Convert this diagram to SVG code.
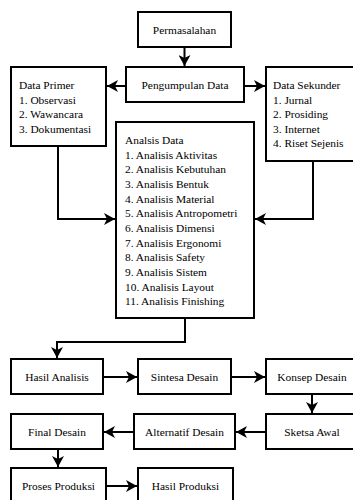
<svg xmlns="http://www.w3.org/2000/svg" width="353" height="500" viewBox="0 0 353 500">
<style>
.box{fill:#fff;stroke:#000;stroke-width:2}
text{font-family:"Liberation Serif","Times New Roman",serif;font-size:11.4px;fill:#000}
.c{text-anchor:middle}
.con{fill:none;stroke:#000;stroke-width:2}
</style>
<defs>
<marker id="ah" markerUnits="userSpaceOnUse" markerWidth="12" markerHeight="12" refX="11" refY="6" orient="auto">
<path d="M0,0 L11,6 L0,12 L3,6 z" fill="#000"/>
</marker>
</defs>
<rect width="353" height="500" fill="#fff"/>
<g id="connectors">
<path class="con" d="M184.5,47 V66" marker-end="url(#ah)"/>
<path class="con" d="M126,86 H107" marker-end="url(#ah)"/>
<path class="con" d="M244,86 H265" marker-end="url(#ah)"/>
<path class="con" d="M58,146 V219 H115" marker-end="url(#ah)"/>
<path class="con" d="M313,161 V219 H255" marker-end="url(#ah)"/>
<path class="con" d="M185,318 V342 H57 V358" marker-end="url(#ah)"/>
<path class="con" d="M103,377 H137" marker-end="url(#ah)"/>
<path class="con" d="M231,377 H265" marker-end="url(#ah)"/>
<path class="con" d="M312,394 V413" marker-end="url(#ah)"/>
<path class="con" d="M266,432 H236" marker-end="url(#ah)"/>
<path class="con" d="M134,432 H104" marker-end="url(#ah)"/>
<path class="con" d="M58,449 V467" marker-end="url(#ah)"/>
<path class="con" d="M106,486 H137" marker-end="url(#ah)"/>
</g>
<g id="permasalahan"><rect class="box" x="138" y="12" width="93" height="35"/><text class="c" x="184.5" y="34">Permasalahan</text></g>
<g id="pengumpulan"><rect class="box" x="126" y="67" width="118" height="35"/><text class="c" x="185" y="89">Pengumpulan Data</text></g>
<g id="data-primer"><rect class="box" x="11" y="67" width="95" height="79"/>
<text x="19" y="89">Data Primer</text>
<text x="19" y="104">1. Observasi</text>
<text x="19" y="118">2. Wawancara</text>
<text x="19" y="133">3. Dokumentasi</text></g>
<g id="data-sekunder"><rect class="box" x="266" y="67" width="94" height="94"/>
<text x="273" y="89">Data Sekunder</text>
<text x="273" y="104">1. Jurnal</text>
<text x="273" y="118">2. Prosiding</text>
<text x="273" y="133">3. Internet</text>
<text x="273" y="147">4. Riset Sejenis</text></g>
<g id="analisis-data"><rect class="box" x="116" y="122" width="138" height="196"/>
<text x="125" y="144">Analsis Data</text>
<text x="125" y="158.5">1. Analisis Aktivitas</text>
<text x="125" y="173">2. Analisis Kebutuhan</text>
<text x="125" y="188">3. Analisis Bentuk</text>
<text x="125" y="202.5">4. Analisis Material</text>
<text x="125" y="217">5. Analisis Antropometri</text>
<text x="125" y="232">6. Analisis Dimensi</text>
<text x="125" y="246.5">7. Analisis Ergonomi</text>
<text x="125" y="261">8. Analisis Safety</text>
<text x="125" y="276">9. Analisis Sistem</text>
<text x="125" y="290.5">10. Analisis Layout</text>
<text x="125" y="305">11. Analisis Finishing</text></g>
<g id="hasil-analisis"><rect class="box" x="11" y="359" width="92" height="35"/><text class="c" x="57" y="381">Hasil Analisis</text></g>
<g id="sintesa-desain"><rect class="box" x="138" y="359" width="93" height="35"/><text class="c" x="184.5" y="381">Sintesa Desain</text></g>
<g id="konsep-desain"><rect class="box" x="266" y="359" width="92" height="35"/><text class="c" x="312" y="381">Konsep Desain</text></g>
<g id="final-desain"><rect class="box" x="11" y="414" width="92" height="35"/><text class="c" x="57" y="436">Final Desain</text></g>
<g id="alternatif-desain"><rect class="box" x="134" y="414" width="101" height="35"/><text class="c" x="184.5" y="436">Alternatif Desain</text></g>
<g id="sketsa-awal"><rect class="box" x="266" y="414" width="92" height="35"/><text class="c" x="312" y="436">Sketsa Awal</text></g>
<g id="proses-produksi"><rect class="box" x="11" y="468" width="95" height="40"/><text class="c" x="58.5" y="490">Proses Produksi</text></g>
<g id="hasil-produksi"><rect class="box" x="138" y="468" width="95" height="40"/><text class="c" x="185.5" y="490">Hasil Produksi</text></g>
</svg>
